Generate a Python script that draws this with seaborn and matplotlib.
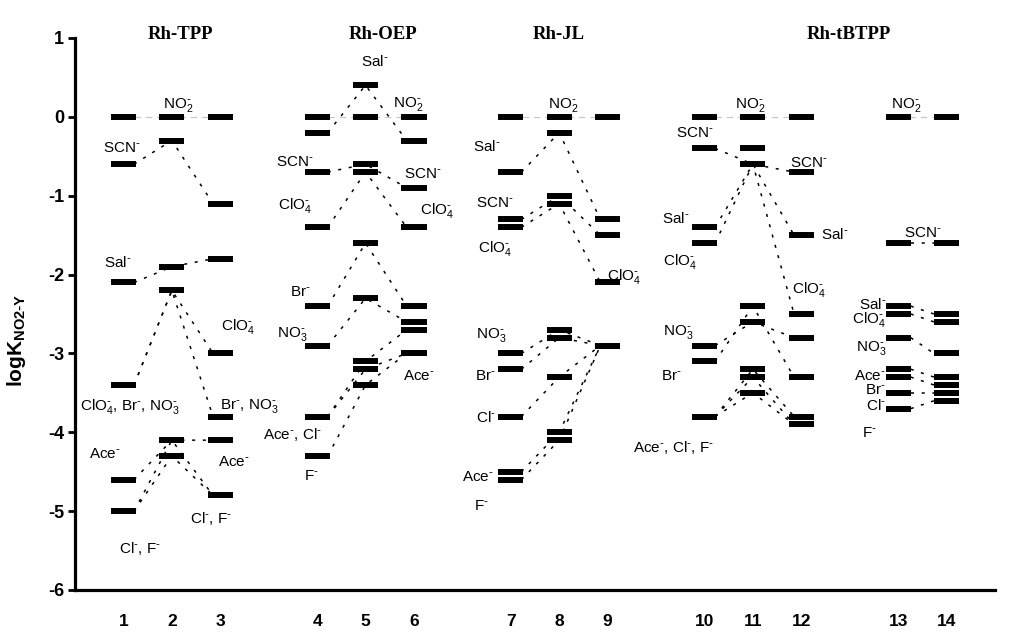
import pandas as pd
import seaborn as sns
import matplotlib.pyplot as plt

# -----------------------------------------------------------------------------
# Data
# -----------------------------------------------------------------------------

col_labels = ["1", "2", "3", "4", "5", "6", "7", "8", "9", "10", "11", "12", "13", "14"]
# slot of every column on the x axis (one empty slot between groups)
col_slots = [1, 2, 3, 5, 6, 7, 9, 10, 11, 13, 14, 15, 17, 18]

# logK levels drawn as bars, one list per column
levels = [
    [0, -0.6, -2.1, -3.4, -4.6, -5.0],
    [0, -0.3, -1.9, -2.2, -4.1, -4.3],
    [0, -1.1, -1.8, -3.0, -3.8, -4.1, -4.8],
    [0, -0.2, -0.7, -1.4, -2.4, -2.9, -3.8, -4.3],
    [0.4, 0, -0.6, -0.7, -1.6, -2.3, -3.1, -3.2, -3.4],
    [0, -0.3, -0.9, -1.4, -2.4, -2.6, -2.7, -3.0],
    [0, -0.7, -1.3, -1.4, -3.0, -3.2, -3.8, -4.5, -4.6],
    [0, -0.2, -1.0, -1.1, -2.7, -2.8, -3.3, -4.0, -4.1],
    [0, -1.3, -1.5, -2.1, -2.9],
    [0, -0.4, -1.4, -1.6, -2.9, -3.1, -3.8],
    [0, -0.4, -0.6, -2.4, -2.6, -3.2, -3.3, -3.5],
    [0, -0.7, -1.5, -2.5, -2.8, -3.3, -3.8, -3.9],
    [0, -1.6, -2.4, -2.5, -2.8, -3.2, -3.3, -3.5, -3.7],
    [0, -1.6, -2.5, -2.6, -3.0, -3.3, -3.4, -3.5, -3.6],
]

# group titles and the columns (index into col_slots) of each group
groups = ["Rh-TPP", "Rh-OEP", "Rh-JL", "Rh-tBTPP", ""]
group_cols = [[0, 1, 2], [3, 4, 5], [6, 7, 8], [9, 10, 11], [12, 13]]

# dotted connections, one list of levels per anion and group
tpp_paths = [[-0.6, -0.3, -1.1], [-2.1, -1.9, -1.8], [-3.4, -2.2, -3.0], [-3.4, -2.2, -3.8],
             [-4.6, -4.1, -4.1], [-5.0, -4.3, -4.8], [-5.0, -4.1, -4.8]]
oep_paths = [[-0.2, 0.4, -0.3], [-0.7, -0.6, -0.9], [-1.4, -0.7, -1.4], [-2.4, -1.6, -2.4],
             [-2.9, -2.3, -2.6], [-3.8, -3.1, -2.7], [-3.8, -3.2, -3.0], [-4.3, -3.4, -3.0]]
jl_paths = [[-0.7, -0.2, -1.3], [-1.3, -1.0, -1.5], [-1.4, -1.1, -2.1], [-3.0, -2.7, -2.9],
            [-3.2, -2.8, -2.9], [-3.8, -3.3, -2.9], [-4.5, -4.0, -2.9], [-4.6, -4.1, -2.9]]
tbtpp_paths = [[-0.4, -0.6, -0.7], [-1.4, -0.6, -1.5], [-1.6, -0.6, -2.5], [-2.9, -2.6, -2.8],
               [-3.1, -2.4, -3.3], [-3.8, -3.2, -3.8], [-3.8, -3.3, -3.9], [-3.8, -3.5, -3.9]]
pair_paths = [[-1.6, -1.6], [-2.4, -2.5], [-2.5, -2.6], [-2.8, -3.0], [-3.2, -3.3],
              [-3.3, -3.4], [-3.5, -3.5], [-3.7, -3.6]]
all_paths = [tpp_paths, oep_paths, jl_paths, tbtpp_paths, pair_paths]

# anion labels
m = r"^{\text{-}}"
NO2, SCN, ClO4, NO3 = r"NO$_2" + m + "$", r"SCN$" + m + "$", r"ClO$_4" + m + "$", r"NO$_3" + m + "$"
Sal, Br, Cl, F, Ace = (r"Sal$" + m + "$", r"Br$" + m + "$", r"Cl$" + m + "$",
                       r"F$" + m + "$", r"Ace$" + m + "$")

annotations = [
    # Rh-TPP
    (NO2, 2.13, 0.15, "center"), (SCN, 0.96, -0.39, "center"), (Sal, 0.88, -1.85, "center"),
    (ClO4 + ", " + Br + ", " + NO3, 1.14, -3.67, "center"), (Ace, 0.61, -4.28, "center"),
    (Cl + ", " + F, 1.35, -5.47, "center"), (ClO4, 3.37, -2.66, "center"),
    (Br + ", " + NO3, 3.6, -3.67, "center"), (Ace, 3.29, -4.38, "center"),
    (Cl + ", " + F, 2.8, -5.09, "center"),
    # Rh-OEP
    (Sal, 6.2, 0.70, "center"), (NO2, 6.88, 0.16, "center"), (SCN, 4.55, -0.57, "center"),
    (SCN, 7.19, -0.73, "center"), (ClO4, 4.55, -1.13, "center"), (ClO4, 7.48, -1.19, "center"),
    (Br, 4.65, -2.22, "center"), (NO3, 4.49, -2.75, "center"), (Ace + ", " + Cl, 4.49, -4.03, "center"),
    (F, 4.88, -4.56, "center"), (Ace, 7.1, -3.29, "center"),
    # Rh-JL
    (NO2, 10.09, 0.15, "center"), (Sal, 8.5, -0.38, "center"), (SCN, 8.67, -1.09, "center"),
    (ClO4, 8.67, -1.67, "center"), (ClO4, 11.33, -2.03, "center"), (NO3, 8.6, -2.76, "center"),
    (Br, 8.48, -3.29, "center"), (Cl, 8.48, -3.81, "center"), (Ace, 8.32, -4.57, "center"),
    (F, 8.4, -4.94, "center"),
    # Rh-tBTPP
    (NO2, 13.95, 0.15, "center"), (SCN, 12.81, -0.2, "center"), (SCN, 15.16, -0.58, "center"),
    (Sal, 12.4, -1.29, "center"), (Sal, 15.7, -1.49, "center"), (ClO4, 12.5, -1.84, "center"),
    (ClO4, 15.16, -2.19, "center"), (NO3, 12.46, -2.73, "center"), (Br, 12.32, -3.29, "center"),
    (Ace + ", " + Cl + ", " + F, 12.36, -4.19, "center"),
    # columns 13-14
    (NO2, 17.17, 0.15, "center"), (SCN, 17.5, -1.47, "center"), (Sal, 16.75, -2.38, "right"),
    (ClO4, 16.75, -2.57, "right"), (NO3, 16.75, -2.93, "right"), (Ace, 16.75, -3.29, "right"),
    (Br, 16.75, -3.47, "right"), (Cl, 16.75, -3.66, "right"), (F, 16.4, -4.01, "center"),
]
title_x = [2.18, 6.36, 10.0, 15.99]

# -----------------------------------------------------------------------------
# Plotting attributes
# -----------------------------------------------------------------------------

sns.set_theme(style="ticks")
plt.rcParams["font.family"] = ["Liberation Sans", "DejaVu Sans"]
plt.rcParams["mathtext.default"] = "regular"
plt.rcParams["axes.unicode_minus"] = False
for key in ["text.color", "axes.labelcolor", "xtick.color", "ytick.color"]:
    plt.rcParams[key] = "black"

half = 0.26      # half width of a level bar (x units)
bar_lw = 4.3     # bar thickness (pt)

# -----------------------------------------------------------------------------
# Build long table of connections
# -----------------------------------------------------------------------------

rows = []
pid = 0
for cols, paths in zip(group_cols, all_paths):
    xs = [col_slots[c] for c in cols]
    for path in paths:
        if len(xs) == 3:
            pts = [(xs[0] + 0.22, path[0]), (xs[1], path[1]), (xs[2] - 0.15, path[2])]
        else:
            pts = [(xs[0] + half, path[0]), (xs[1] - half, path[1])]
        for x, y in pts:
            rows.append({"path": pid, "x": x, "y": y})
        pid += 1
df_lines = pd.DataFrame(rows)

# -----------------------------------------------------------------------------
# Figure
# -----------------------------------------------------------------------------

fig = plt.figure(figsize=(10.09, 6.44), dpi=100)
ax = fig.add_axes([75 / 1009, 1 - 590 / 644, 920 / 1009, 552 / 644])

# grey dashed line joining the NO2- reference levels
for cols in group_cols:
    xs = [col_slots[c] for c in cols]
    ax.plot([xs[0], xs[-1]], [0, 0], color="#c8c8c8", lw=0.9, ls=(0, (5, 4)), zorder=1)

sns.lineplot(data=df_lines, x="x", y="y", units="path", estimator=None, sort=False,
             color="black", lw=1.1, linestyle=(0, (2, 5)), ax=ax, zorder=2)

for x, ys in zip(col_slots, levels):
    ax.hlines(ys, x - half, x + half, color="black", lw=bar_lw, zorder=3)

for text, x, y, ha in annotations:
    ax.text(x, y, text, ha=ha, va="center", fontsize=11, zorder=4)

for title, x in zip(groups[:4], title_x):
    ax.text(x, 1.05, title, ha="center", va="center", fontsize=13.5, fontweight="bold",
            family="Liberation Serif", clip_on=False)

ax.set_xlim(0, 19)
ax.set_ylim(-6, 1)
ax.set_xticks(col_slots, col_labels)
ax.set_yticks(range(-6, 2))
ax.tick_params(axis="x", length=0, pad=17, labelsize=12.5)
ax.tick_params(axis="y", length=5, width=2, pad=3, labelsize=13)
for lab in ax.get_xticklabels() + ax.get_yticklabels():
    lab.set_fontweight("bold")
ax.set(xlabel=None)
ax.set_ylabel(r"logK$_{NO2\text{-}Y}$", fontsize=15, fontweight="bold")
ax.yaxis.set_label_coords(-0.051, 0.453)

sns.despine(ax=ax)
for side in ["left", "bottom"]:
    ax.spines[side].set_linewidth(2.3)
    ax.spines[side].set_color("black")

fig.savefig("out.png", dpi=100)
